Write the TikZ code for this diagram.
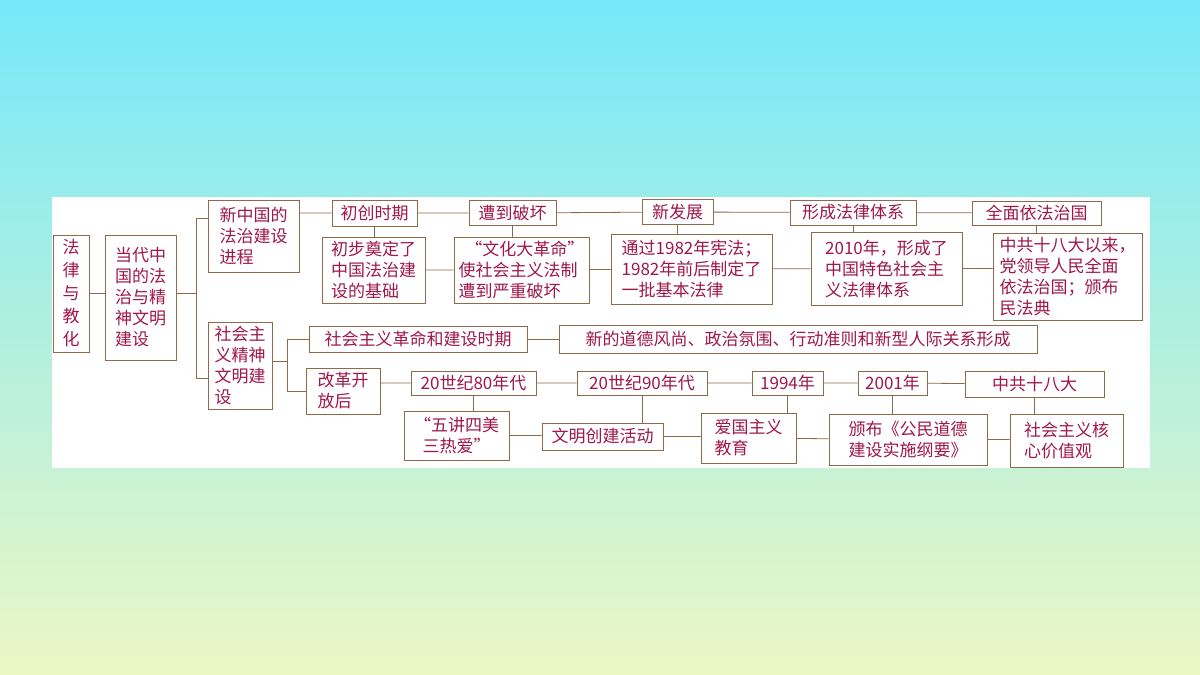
\documentclass[tikz,border=0pt]{standalone}
\usepackage{fontspec}
\setmainfont{Noto Sans CJK SC}
\definecolor{framec}{RGB}{139,107,74}
\definecolor{textc}{RGB}{160,23,74}
\definecolor{skytop}{RGB}{118,232,250}
\definecolor{skybot}{RGB}{236,247,196}
\tikzset{
  box/.style={draw=framec,thick,fill=white,text=textc,inner sep=2pt,
    font=\fontsize{17}{21}\selectfont,align=left},
  link/.style={framec,thick}
}
\begin{document}
\begin{tikzpicture}[x=1pt,y=-1pt]
  \useasboundingbox (0,0) rectangle (1200,675);
  \shade[top color=skytop,bottom color=skybot] (0,0) rectangle (1200,675);
  \fill[white] (52,197) rectangle (1150,468);
  % left part
  \node[box,minimum width=36,minimum height=117,align=center,
    font=\fontsize{17}{23}\selectfont] (law) at (71,293.5) {法\\律\\与\\教\\化};
  \node[box,minimum width=71,minimum height=125] (era) at (140.5,297.5)
    {当代中\\国的法\\治与精\\神文明\\建设};
  \node[box,minimum width=91,minimum height=72] (newcn) at (253.5,236)
    {新中国的\\法治建设\\进程};
  \node[box,minimum width=64,minimum height=87] (spirit) at (240,365.5)
    {社会主\\义精神\\文明建\\设};
  % law row
  \node[box,minimum width=85,minimum height=26,align=center] (start) at (374.5,213) {初创时期};
  \node[box,minimum width=87,minimum height=25,align=center] (broken) at (512.5,213) {遭到破坏};
  \node[box,minimum width=71,minimum height=25,align=center] (newdev) at (677.5,212) {新发展};
  \node[box,minimum width=126,minimum height=25,align=center] (system) at (853,212.5) {形成法律体系};
  \node[box,minimum width=129,minimum height=24,align=center] (rule) at (1036.5,213) {全面依法治国};
  \node[box,minimum width=103,minimum height=66] (startd) at (373.5,270)
    {初步奠定了\\中国法治建\\设的基础};
  \node[box,minimum width=135,minimum height=66] (brokend) at (521.5,270)
    {\hspace*{0.4em}“文化大革命”\\使社会主义法制\\遭到严重破坏};
  \node[box,minimum width=161,minimum height=70] (newdevd) at (691.5,269)
    {通过1982年宪法；\\1982年前后制定了\\一批基本法律};
  \node[box,minimum width=151,minimum height=73] (systemd) at (886.5,268.5)
    {2010年，形成了\\中国特色社会主\\义法律体系};
  \node[box,minimum width=149,minimum height=87] (ruled) at (1067.5,276.5)
    {中共十八大以来，\\党领导人民全面\\依法治国；颁布\\民法典};
  % spirit rows
  \node[box,minimum width=218,minimum height=26,align=center] (revo) at (418,339) {社会主义革命和建设时期};
  \node[box,minimum width=478,minimum height=28,align=center] (morals) at (798,339)
    {新的道德风尚、政治氛围、行动准则和新型人际关系形成};
  \node[box,minimum width=74,minimum height=46] (reform) at (343,391) {改革开\\放后};
  \node[box,minimum width=125,minimum height=24,align=center] (e80) at (473.5,383) {20世纪80年代};
  \node[box,minimum width=130,minimum height=24,align=center] (e90) at (642,383) {20世纪90年代};
  \node[box,minimum width=71,minimum height=24,align=center] (y94) at (787.5,383) {1994年};
  \node[box,minimum width=69,minimum height=24,align=center] (y01) at (892.5,383) {2001年};
  \node[box,minimum width=139,minimum height=26,align=center] (c18) at (1034.5,384) {中共十八大};
  \node[box,minimum width=105,minimum height=49,align=center] (e80d) at (456.5,435.5) {“五讲四美\\三热爱”};
  \node[box,minimum width=121,minimum height=27,align=center] (e90d) at (602.5,436.5) {文明创建活动};
  \node[box,minimum width=95,minimum height=50] (y94d) at (748.5,438) {爱国主义\\教育};
  \node[box,minimum width=158,minimum height=51] (y01d) at (908,439.5) {颁布《公民道德\\建设实施纲要》};
  \node[box,minimum width=113,minimum height=53] (c18d) at (1066.5,440.5) {社会主义核\\心价值观};
  % connectors
  \coordinate (j1) at (196,293);
  \coordinate (j2) at (287,361);
  \draw[link] (law.east) -- (law -| era.west);
  \draw[link] (era.east |- j1) -- (j1);
  \draw[link] (newcn.west |- 0,218) -- (j1 |- 0,218) -- (j1 |- 0,378) -- (spirit.west |- 0,378);
  \draw[link] (spirit.east |- j2) -- (j2);
  \draw[link] (revo.west) -- (j2 |- revo.west) -- (j2 |- reform.west) -- (reform.west);
  \draw[link] (newcn.east |- start) -- (start) -- (broken) -- (newdev) -- (system) -- (rule);
  \draw[link] (startd) -- (brokend) -- (newdevd) -- (systemd) -- (ruled.west |- systemd);
  \foreach \a/\b in {start/startd,broken/brokend,newdev/newdevd,system/systemd,rule/ruled,
    e80/e80d,e90/e90d,y94/y94d,y01/y01d,c18/c18d}
    \draw[link] (\a.south) -- (\a.south |- \b.north);
  \draw[link] (revo) -- (morals);
  \draw[link] (reform.east |- e80) -- (e80) -- (e90) -- (y94) -- (y01) -- (c18);
  \draw[link] (e80d) -- (e90d.west |- e80d) (e90d) -- (y94d.west |- e90d)
    (y94d) -- (y01d) -- (c18d.west |- y01d);
\end{tikzpicture}
\end{document}
